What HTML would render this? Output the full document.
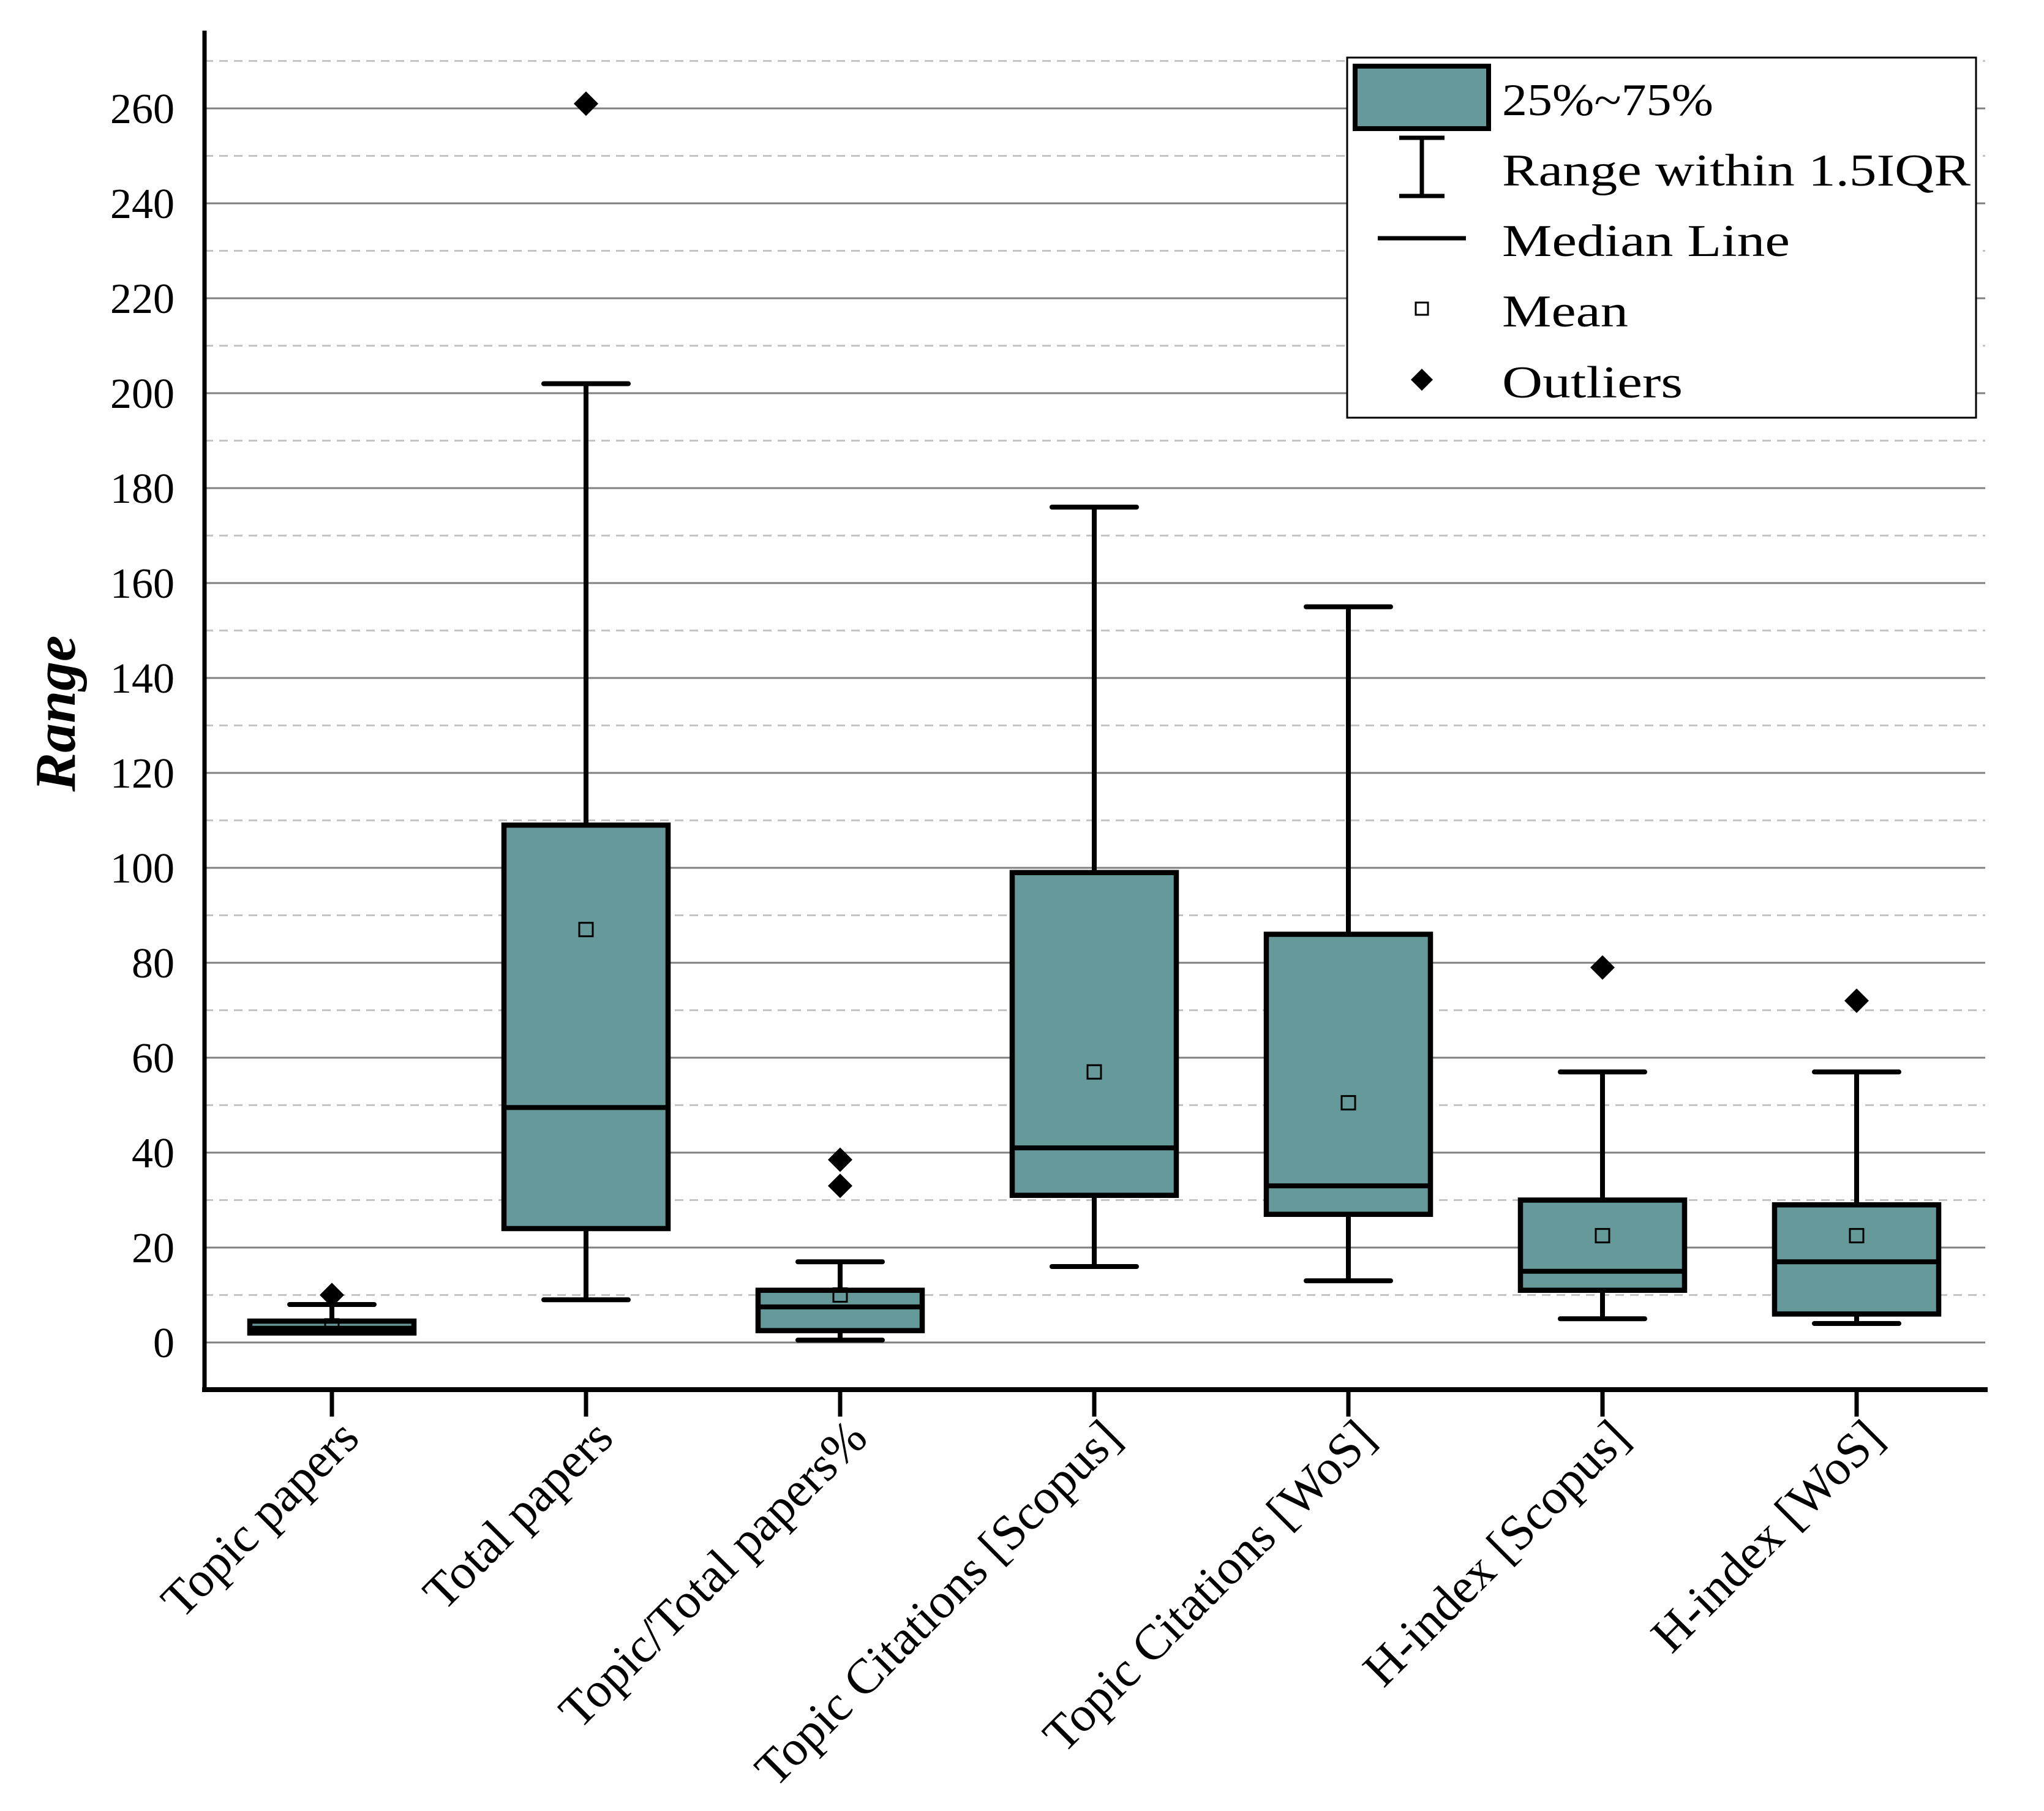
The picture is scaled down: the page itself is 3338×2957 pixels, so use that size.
<!DOCTYPE html>
<html><head><meta charset="utf-8"><style>
body{margin:0;background:#fff}
svg{display:block;font-family:"Liberation Serif",serif}
</style></head><body>
<svg id="chart" width="3338" height="2957" viewBox="0 0 3338 2957" xmlns="http://www.w3.org/2000/svg">
<g id="grid"></g>
<g id="boxes"></g>
<g id="axes"></g>
<text x="0" y="0" transform="translate(122,1165) rotate(-90)" text-anchor="middle" font-size="94" font-weight="bold" font-style="italic" textLength="255" lengthAdjust="spacingAndGlyphs">Range</text>
<g>
<rect x="2200" y="94" width="1027" height="588" fill="#fff" stroke="#000" stroke-width="3"/>
<rect x="2213" y="108" width="218" height="102" fill="#669999" stroke="#000" stroke-width="8"/>
<text x="2453" y="188" font-size="74" textLength="345" lengthAdjust="spacingAndGlyphs">25%~75%</text>
<g stroke="#000" stroke-width="7"><line x1="2322" y1="225" x2="2322" y2="320"/><line x1="2285" y1="225" x2="2359" y2="225"/><line x1="2285" y1="320" x2="2359" y2="320"/></g>
<text x="2453" y="303" font-size="74" textLength="765" lengthAdjust="spacingAndGlyphs">Range within 1.5IQR</text>
<line x1="2250" y1="389" x2="2394" y2="389" stroke="#000" stroke-width="7"/>
<text x="2453" y="418" font-size="74" textLength="470" lengthAdjust="spacingAndGlyphs">Median Line</text>
<rect x="2312" y="494" width="20" height="20" fill="#fff" stroke="#000" stroke-width="3"/>
<text x="2453" y="533" font-size="74" textLength="206" lengthAdjust="spacingAndGlyphs">Mean</text>
<path d="M2322 602 l18 18 l-18 18 l-18 -18z" fill="#000"/>
<text x="2453" y="649" font-size="74" textLength="295" lengthAdjust="spacingAndGlyphs">Outliers</text>
</g>
</svg>
<script>
const categories=["Topic papers","Total papers","Topic/Total papers%","Topic Citations [Scopus]","Topic Citations [WoS]","H-index [Scopus]","H-index [WoS]"];
const whiskerLow=[2,9,0.5,16,13,5,4];
const q1=[2,24,2.5,31,27,11,6];
const median=[3,49.5,7.5,41,33,15,17];
const q3=[4.5,109,11,99,86,30,29];
const whiskerHigh=[8,202,17,176,155,57,57];
const means=[3.5,87,10,57,50.5,22.5,22.5];
const outliers=[[10],[261],[33,38.5],[],[],[79],[72]];
const yTicks=[0,20,40,60,80,100,120,140,160,180,200,220,240,260];
const NS="http://www.w3.org/2000/svg";
const X0=334,X1=3242,YAX=2269;
const y=v=>2192-v*7.75;
const x=i=>542+i*415;
function mk(tag,attrs,parent){const e=document.createElementNS(NS,tag);for(const k in attrs)e.setAttribute(k,attrs[k]);parent.appendChild(e);return e;}
const grid=document.getElementById('grid'),boxes=document.getElementById('boxes'),axes=document.getElementById('axes');
for(let v=10;v<=270;v+=20){const l=mk('line',{x1:X0,x2:X1,y1:y(v),y2:y(v),stroke:'#c4c4c4','stroke-width':3,'stroke-dasharray':'14 10'},grid);

}
yTicks.forEach(v=>{const l=mk('line',{x1:X0,x2:X1,y1:y(v),y2:y(v),stroke:'#808080','stroke-width':3},grid);


const t=mk('text',{x:285,y:y(v)+24,'text-anchor':'end','font-size':70},axes);t.textContent=v;

});
categories.forEach((c,i)=>{const cx=x(i),bw=268,cw=138;
const g=mk('g',{},boxes);


mk('line',{x1:cx,x2:cx,y1:y(whiskerHigh[i]),y2:y(q3[i]),stroke:'#000','stroke-width':8},g);
mk('line',{x1:cx,x2:cx,y1:y(q1[i]),y2:y(whiskerLow[i]),stroke:'#000','stroke-width':8},g);
mk('line',{x1:cx-cw/2,x2:cx+cw/2,y1:y(whiskerHigh[i]),y2:y(whiskerHigh[i]),stroke:'#000','stroke-width':8,'stroke-linecap':'round'},g);
mk('line',{x1:cx-cw/2,x2:cx+cw/2,y1:y(whiskerLow[i]),y2:y(whiskerLow[i]),stroke:'#000','stroke-width':8,'stroke-linecap':'round'},g);
mk('rect',{x:cx-bw/2,y:y(q3[i]),width:bw,height:y(q1[i])-y(q3[i]),fill:'#669999',stroke:'#000','stroke-width':8.5},g);
mk('line',{x1:cx-bw/2,x2:cx+bw/2,y1:y(median[i]),y2:y(median[i]),stroke:'#000','stroke-width':8},g);
const m=mk('rect',{x:cx-11,y:y(means[i])-11,width:22,height:22,fill:'none',stroke:'#000','stroke-width':3},g);


outliers[i].forEach(o=>{const p=mk('path',{d:`M${cx} ${y(o)-20} l20 20 l-20 20 l-20 -20z`,fill:'#000'},g);

});
mk('line',{x1:cx,x2:cx,y1:YAX,y2:2313,stroke:'#000','stroke-width':7},axes);
const t=mk('text',{x:0,y:0,'text-anchor':'end','font-size':81,transform:`translate(${cx+48},${2352}) rotate(-45)`},axes);t.textContent=c;

});
const ya=mk('line',{x1:X0,x2:X0,y1:50,y2:YAX+4,stroke:'#000','stroke-width':7},axes);


const xa=mk('line',{x1:X0-4,x2:X1+4,y1:YAX,y2:YAX,stroke:'#000','stroke-width':8},axes);


</script>
</body></html>
